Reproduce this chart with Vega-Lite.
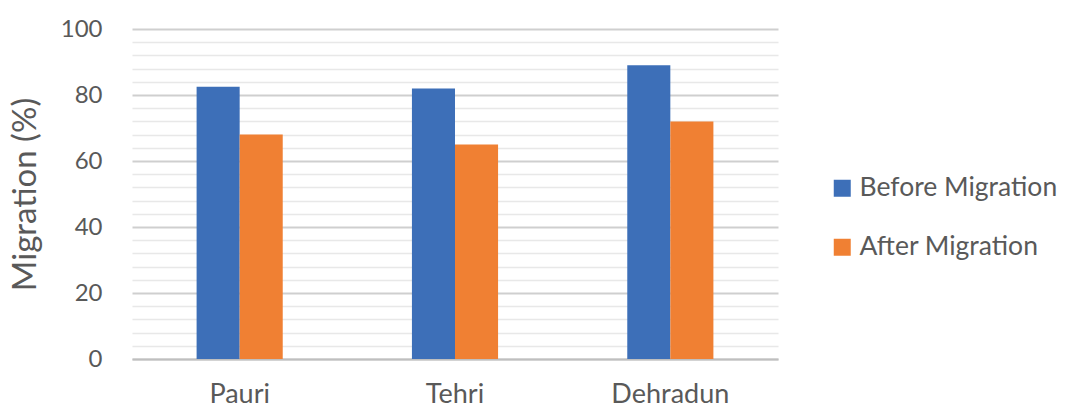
{
  "$schema": "https://vega.github.io/schema/vega-lite/v6.json",
  "autosize": "none",
  "padding": {"left": 132, "top": 29, "right": 289, "bottom": 51},
  "width": 646,
  "height": 330,
  "background": "white",
  "config": {
    "font": "Lato",
    "view": {"stroke": null},
    "axis": {"labelColor": "#595959", "titleColor": "#595959", "labelFont": "Lato", "titleFont": "Lato"}
  },
  "data": {
    "values": [
      {"district": "Pauri", "period": "Before Migration", "pct": 82.5},
      {"district": "Pauri", "period": "After Migration", "pct": 68},
      {"district": "Tehri", "period": "Before Migration", "pct": 82},
      {"district": "Tehri", "period": "After Migration", "pct": 65},
      {"district": "Dehradun", "period": "Before Migration", "pct": 89},
      {"district": "Dehradun", "period": "After Migration", "pct": 72}
    ]
  },
  "mark": {"type": "bar"},
  "encoding": {
    "x": {
      "field": "district",
      "type": "nominal",
      "sort": ["Pauri", "Tehri", "Dehradun"],
      "scale": {"paddingInner": 0.6, "paddingOuter": 0.3},
      "axis": {
        "title": null,
        "labelAngle": 0,
        "labelFontSize": 27,
        "labelPadding": 22,
        "ticks": false,
        "domain": true,
        "domainColor": "#bfbfbf",
        "domainWidth": 2
      }
    },
    "xOffset": {
      "field": "period",
      "type": "nominal",
      "sort": ["Before Migration", "After Migration"],
      "scale": {"paddingInner": 0, "paddingOuter": 0}
    },
    "y": {
      "field": "pct",
      "type": "quantitative",
      "scale": {"domain": [0, 100], "nice": false},
      "axis": {
        "title": "Migration (%)",
        "titleFontSize": 33,
        "titleFontWeight": "normal",
        "titlePadding": 18,
        "values": [0, 4, 8, 12, 16, 20, 24, 28, 32, 36, 40, 44, 48, 52, 56, 60, 64, 68, 72, 76, 80, 84, 88, 92, 96, 100],
        "labelExpr": "datum.value % 20 === 0 ? datum.label : ''",
        "labelFontSize": 24,
        "labelPadding": 30,
        "labelBound": false,
        "labelOverlap": false,
        "ticks": false,
        "domain": false,
        "grid": true,
        "gridColor": {"condition": {"test": "datum.value % 20 === 0", "value": "#cfcfcf"}, "value": "#e8e8e8"},
        "gridWidth": {"condition": {"test": "datum.value % 20 === 0", "value": 2}, "value": 1.5}
      }
    },
    "color": {
      "field": "period",
      "type": "nominal",
      "sort": ["Before Migration", "After Migration"],
      "scale": {"domain": ["Before Migration", "After Migration"], "range": ["#3d6fb8", "#f08033"]},
      "legend": {
        "title": null,
        "orient": "none",
        "legendX": 697,
        "legendY": 146,
        "symbolType": "square",
        "symbolSize": 289,
        "symbolStrokeWidth": 0,
        "labelFontSize": 26.5,
        "labelColor": "#595959",
        "labelFont": "Lato",
        "labelLimit": 400,
        "rowPadding": 32,
        "labelOffset": 4
      }
    }
  }
}
